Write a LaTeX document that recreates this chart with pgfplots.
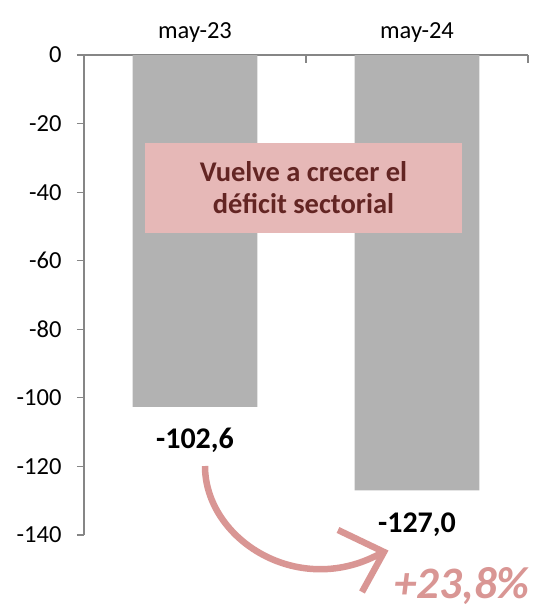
\documentclass[border=0pt]{standalone}
\usepackage{pgfplots}
\pgfplotsset{compat=1.18}
\usepackage{fontspec}
\setmainfont{Carlito}
\definecolor{barg}{HTML}{B2B2B2}
\definecolor{boxfill}{HTML}{E6B8B7}
\definecolor{boxtext}{HTML}{632523}
\definecolor{arrowc}{HTML}{D99694}
\definecolor{axg}{HTML}{868686}
\begin{document}
\begin{tikzpicture}
\path[use as bounding box] (0pt,0pt) rectangle (535pt,-610pt);
\begin{axis}[
  at={(84pt,-535pt)}, anchor=south west,
  scale only axis, width=444pt, height=480pt,
  xmin=-0.5, xmax=1.5, ymin=-140, ymax=0,
  axis x line*=top, axis y line*=left,
  axis line style={draw=axg, line width=1.3pt},
  xtick={0,1}, xticklabels={may-23,may-24},
  major x tick style={draw=none},
  ytick={0,-20,-40,-60,-80,-100,-120,-140},
  y tick style={draw=axg, line width=1.1pt},
  tick align=outside, major tick length=7pt,
  /pgf/number format/assume math mode=true,
  ticklabel style={font=\fontsize{24.5}{28}\selectfont, text=black},
  yticklabel style={xshift=-12pt},
  xticklabel style={yshift=2pt},
  clip=false,
  ybar, bar width=0.563,
  nodes near coords={\pgfmathprintnumber[fixed,fixed zerofill,precision=1,use comma]{\pgfplotspointmeta}},
  every node near coord/.append style={font=\bfseries\fontsize{30}{34}\selectfont, text=black, anchor=center, yshift=-34pt},
]
\addplot[fill=barg, draw=none] coordinates {(0,-102.6) (1,-127.0)};
\draw[axg, line width=1.1pt] (axis cs:0.5,0) -- ++(0pt,-8pt);
\draw[axg, line width=1.1pt] (axis cs:1.5,0) -- ++(0pt,-8pt);
\end{axis}
\node[fill=boxfill, minimum width=317pt, minimum height=90pt, inner sep=0pt,
  text=boxtext, font=\bfseries\fontsize{28.5}{32}\selectfont, align=center]
  at (303.5pt,-188pt) {Vuelve a crecer el\\déficit sectorial};
\draw[arrowc, line width=6.5pt] (205pt,-466pt) .. controls (205pt,-540pt) and (300pt,-600pt) .. (383pt,-552pt);
\draw[arrowc, line width=6.5pt, line cap=butt] (338pt,-530pt) -- (384pt,-552pt) -- (362pt,-592pt);
\node[text=arrowc, inner sep=1pt, font=\bfseries\itshape\fontsize{45}{50}\selectfont] at (462pt,-586pt) {+23,8\%};
\end{tikzpicture}
\end{document}
